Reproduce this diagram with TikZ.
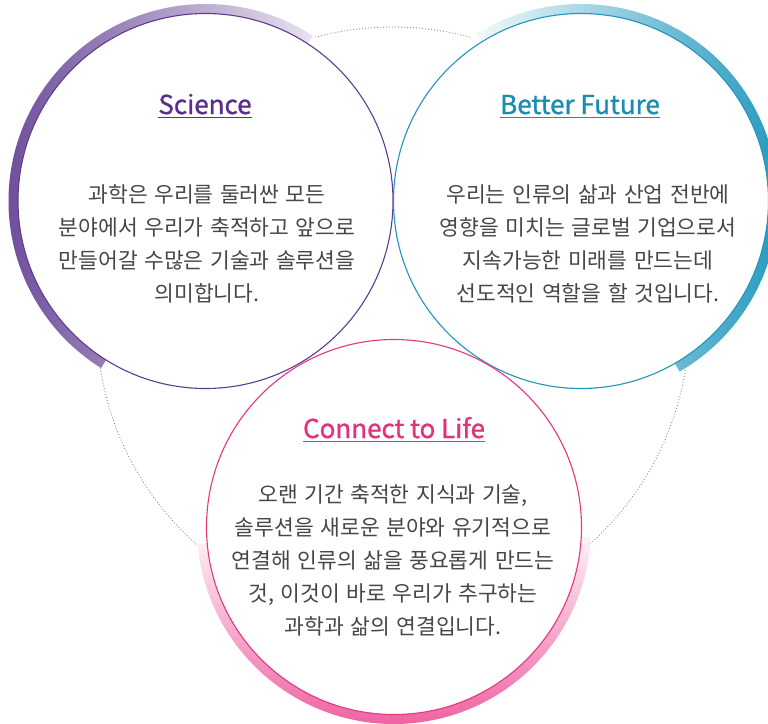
\documentclass[tikz,border=0pt]{standalone}
\usepackage{fontspec}
\newfontfamily\kr[WordSpace=1.35]{Noto Sans CJK KR}
\newfontfamily\ttl[FakeBold=1]{Noto Sans CJK KR}
\usetikzlibrary{calc}
\definecolor{sciC}{HTML}{5B2E8E}
\definecolor{sciLine}{HTML}{5E3C90}
\definecolor{sciDark}{HTML}{684897}
\definecolor{sciLight}{HTML}{E8E2F0}
\definecolor{futC}{HTML}{1A8DB3}
\definecolor{futLine}{HTML}{2096BC}
\definecolor{futDark}{HTML}{1B95BB}
\definecolor{futLight}{HTML}{F2F9FB}
\definecolor{lifeC}{HTML}{E6307A}
\definecolor{lifeLine}{HTML}{E8367F}
\definecolor{lifeDark}{HTML}{EE5D9F}
\definecolor{lifeLight}{HTML}{FDF1F6}
\definecolor{bodyC}{HTML}{474747}
\definecolor{dotC}{HTML}{8A8A8A}
\tikzset{
  dotline/.style={dotC, line width=0.9pt, dash pattern=on 0.9pt off 2.1pt},
  thin circ/.style={line width=1.1pt},
  titletext/.style={inner sep=0pt, anchor=base, font=\ttl\fontsize{26}{30}\selectfont},
  bodytext/.style={inner sep=0pt, align=center, text=bodyC, font=\kr\fontsize{21.5}{33}\selectfont},
  uline/.style={line width=1.5pt}
}
\begin{document}
\begin{tikzpicture}[x=1pt,y=1pt]
\useasboundingbox (0,0) rectangle (768,-723);
\coordinate (bc) at (393,-323);
\coordinate (sc) at (205.5,-201);
\coordinate (fc) at (581,-201);
\coordinate (lc) at (394,-527);

% big dotted circle
\draw[dotline] (bc) circle[radius=296];
% white discs hiding the dotted circle
\fill[white] (sc) circle[radius=197];
\fill[white] (fc) circle[radius=197];
\fill[white] (lc) circle[radius=197];

% gradient bands
\shade[left color=sciDark, right color=sciLight]
  ($(sc)+(57:197)$) arc[start angle=57, end angle=238, radius=197]
  -- ($(sc)+(238:187.5)$) arc[start angle=238, end angle=57, radius=187.5] -- cycle;
\shade[left color=futLight, right color=futDark]
  ($(fc)+(122:197)$) arc[start angle=122, end angle=-60, radius=197]
  -- ($(fc)+(-60:187.5)$) arc[start angle=-60, end angle=122, radius=187.5] -- cycle;
\shade[top color=lifeLight, bottom color=lifeDark]
  ($(lc)+(185:197)$) arc[start angle=185, end angle=357, radius=197]
  -- ($(lc)+(357:187.5)$) arc[start angle=357, end angle=185, radius=187.5] -- cycle;

% thin circles
\draw[thin circ, sciLine] (sc) circle[radius=187.5];
\draw[thin circ, futLine] (fc) circle[radius=187.5];
\draw[thin circ, lifeLine] (lc) circle[radius=187.5];

% titles
\node[titletext, text=sciC] (tsci) at (205,-114) {Science};
\draw[uline, sciC] ($(tsci.base west)+(0,-3.5)$) -- ($(tsci.base east)+(0,-3.5)$);
\node[titletext, text=futC] (tfut) at (580,-114) {Better Future};
\draw[uline, futC] ($(tfut.base west)+(0,-3.5)$) -- ($(tfut.base east)+(0,-3.5)$);
\node[titletext, text=lifeC] (tlife) at (394,-438) {Connect to Life};
\draw[uline, lifeC] ($(tlife.base west)+(0,-3.5)$) -- ($(tlife.base east)+(0,-3.5)$);

% body texts
\node[bodytext] (bsci) at (207,-243.5) {과학은 우리를 둘러싼 모든\\분야에서 우리가 축적하고 앞으로\\만들어갈 수많은 기술과 솔루션을\\의미합니다.};
\node[bodytext] (bfut) at (588,-243.5) {우리는 인류의 삶과 산업 전반에\\영향을 미치는 글로벌 기업으로서\\지속가능한 미래를 만드는데\\선도적인 역할을 할 것입니다.};
\node[bodytext] (blife) at (393,-560) {오랜 기간 축적한 지식과 기술,\\솔루션을 새로운 분야와 유기적으로\\연결해 인류의 삶을 풍요롭게 만드는\\것, 이것이 바로 우리가 추구하는\\과학과 삶의 연결입니다.};
\end{tikzpicture}
\end{document}
